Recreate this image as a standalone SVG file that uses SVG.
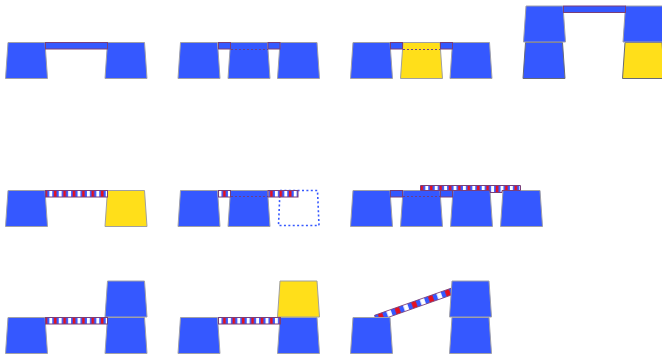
<svg xmlns="http://www.w3.org/2000/svg" width="662" height="356" viewBox="0 0 662 356">
<style>
.b{fill:#3558ff;stroke:#a0a0a8;stroke-width:1}
.y{fill:#ffdf1a;stroke:#a0a0a0;stroke-width:1}
.dk{stroke:#666a78}
.bar{fill:#3558ff;stroke:#7a3f78;stroke-width:1}
.st{fill:url(#stripes);stroke:#7a3f78;stroke-width:1}
.sd{fill:url(#stripes2);stroke:#7a3f78;stroke-width:.8}
.dash{fill:none;stroke:#6a3f88;stroke-width:1;stroke-dasharray:2 2}
.ghost{fill:none;stroke:#3558ff;stroke-width:1.6;stroke-dasharray:2 2.4}
</style>
<defs>
<pattern id="stripes" patternUnits="userSpaceOnUse" width="9.4" height="10" x="0.5">
<rect width="9.4" height="10" fill="#3558ff"/>
<rect x="1.8" width="3" height="10" fill="#fff"/>
<rect x="6.4" width="2.6" height="10" fill="#e8101c"/>
</pattern>
<pattern id="stripes2" patternUnits="userSpaceOnUse" width="17.7" height="10" x="1">
<rect width="17.7" height="10" fill="#3558ff"/>
<rect x="2.2" width="4.6" height="10" fill="#fff"/>
<rect x="11" width="4.6" height="10" fill="#e8101c"/>
</pattern>
<path id="t" d="M2.5 0H39.5L42 36H0Z"/>
</defs>
<g id="connectors-under">
<rect class="sd" x="-80" y="-3.25" width="82" height="6.5" transform="translate(451 291.7) rotate(-19.5)"/>
</g>
<g id="n1"><use href="#t" class="b" x="5.5" y="42.5"/></g>
<g id="n2"><use href="#t" class="b" x="105" y="42.5"/></g>
<g id="n3"><use href="#t" class="b" x="178" y="42.5"/></g>
<g id="n4"><use href="#t" class="b" x="228" y="42.5"/></g>
<g id="n5"><use href="#t" class="b" x="277.5" y="42.5"/></g>
<g id="n6"><use href="#t" class="b" x="350.5" y="42.5"/></g>
<g id="n7"><use href="#t" class="y" x="400.5" y="42.5"/></g>
<g id="n8"><use href="#t" class="b" x="450" y="42.5"/></g>
<g id="n9"><use href="#t" class="b dk" x="523" y="42.5"/></g>
<g id="n10"><use href="#t" class="y dk" x="622.5" y="42.5"/></g>
<g id="n11"><use href="#t" class="b" x="523.5" y="6"/></g>
<g id="n12"><use href="#t" class="b" x="623" y="6"/></g>
<g id="n13"><use href="#t" class="b" x="5.5" y="190.5"/></g>
<g id="n14"><use href="#t" class="y" x="105" y="190.5"/></g>
<g id="n15"><use href="#t" class="b" x="178" y="190.5"/></g>
<g id="n16"><use href="#t" class="b" x="228" y="190.5"/></g>
<g id="n17"><path class="ghost" d="M280 190.5H317.5L319 225.5H278.5Z"/></g>
<g id="n18"><use href="#t" class="b" x="350.5" y="190.5"/></g>
<g id="n19"><use href="#t" class="b" x="400.5" y="190.5"/></g>
<g id="n20"><use href="#t" class="b" x="450.5" y="190.5"/></g>
<g id="n21"><use href="#t" class="b" x="500.5" y="190.5"/></g>
<g id="n22"><use href="#t" class="b" x="5.5" y="317.5"/></g>
<g id="n23"><use href="#t" class="b" x="105" y="317.5"/></g>
<g id="n24"><use href="#t" class="b" x="105" y="281"/></g>
<g id="n25"><use href="#t" class="b" x="178" y="317.5"/></g>
<g id="n26"><use href="#t" class="b" x="277.5" y="317.5"/></g>
<g id="n27"><use href="#t" class="y" x="277.5" y="281"/></g>
<g id="n28"><use href="#t" class="b" x="350.5" y="317.5"/></g>
<g id="n29"><use href="#t" class="b" x="449.5" y="317.5"/></g>
<g id="n30"><use href="#t" class="b" x="449.5" y="281"/></g>
<g id="connectors">
<rect class="bar" x="45.5" y="42.5" width="62" height="6.5"/>
<rect class="bar" x="218.5" y="42.5" width="12" height="6.5"/>
<rect class="bar" x="268" y="42.5" width="12" height="6.5"/>
<rect class="bar" x="390.5" y="42.5" width="12" height="6.5"/>
<rect class="bar" x="440.5" y="42.5" width="12" height="6.5"/>
<rect class="bar" x="563.5" y="6" width="62" height="6.5"/>
<rect class="st" x="45.5" y="190.5" width="62" height="6.5"/>
<rect class="st" x="218.5" y="190.5" width="12" height="6.5"/>
<rect class="st" x="268" y="190.5" width="30" height="6.5"/>
<rect class="bar" x="390.5" y="190.5" width="12" height="6.5"/>
<rect class="bar" x="440.5" y="190.5" width="12" height="6.5"/>
<rect class="st" x="45.5" y="317.5" width="62" height="6.5"/>
<rect class="st" x="218.5" y="317.5" width="62" height="6.5"/>
<path class="dash" d="M231 49.5H268"/>
<path class="dash" d="M403 49.5H440"/>
<path class="dash" d="M231 196.5H268"/>
<path class="dash" d="M403 196.5H440"/>
<path class="st" d="M420.5 185.5H520.5V190.5H502V192.5H490V190.5H420.5Z"/>
</g>
</svg>
